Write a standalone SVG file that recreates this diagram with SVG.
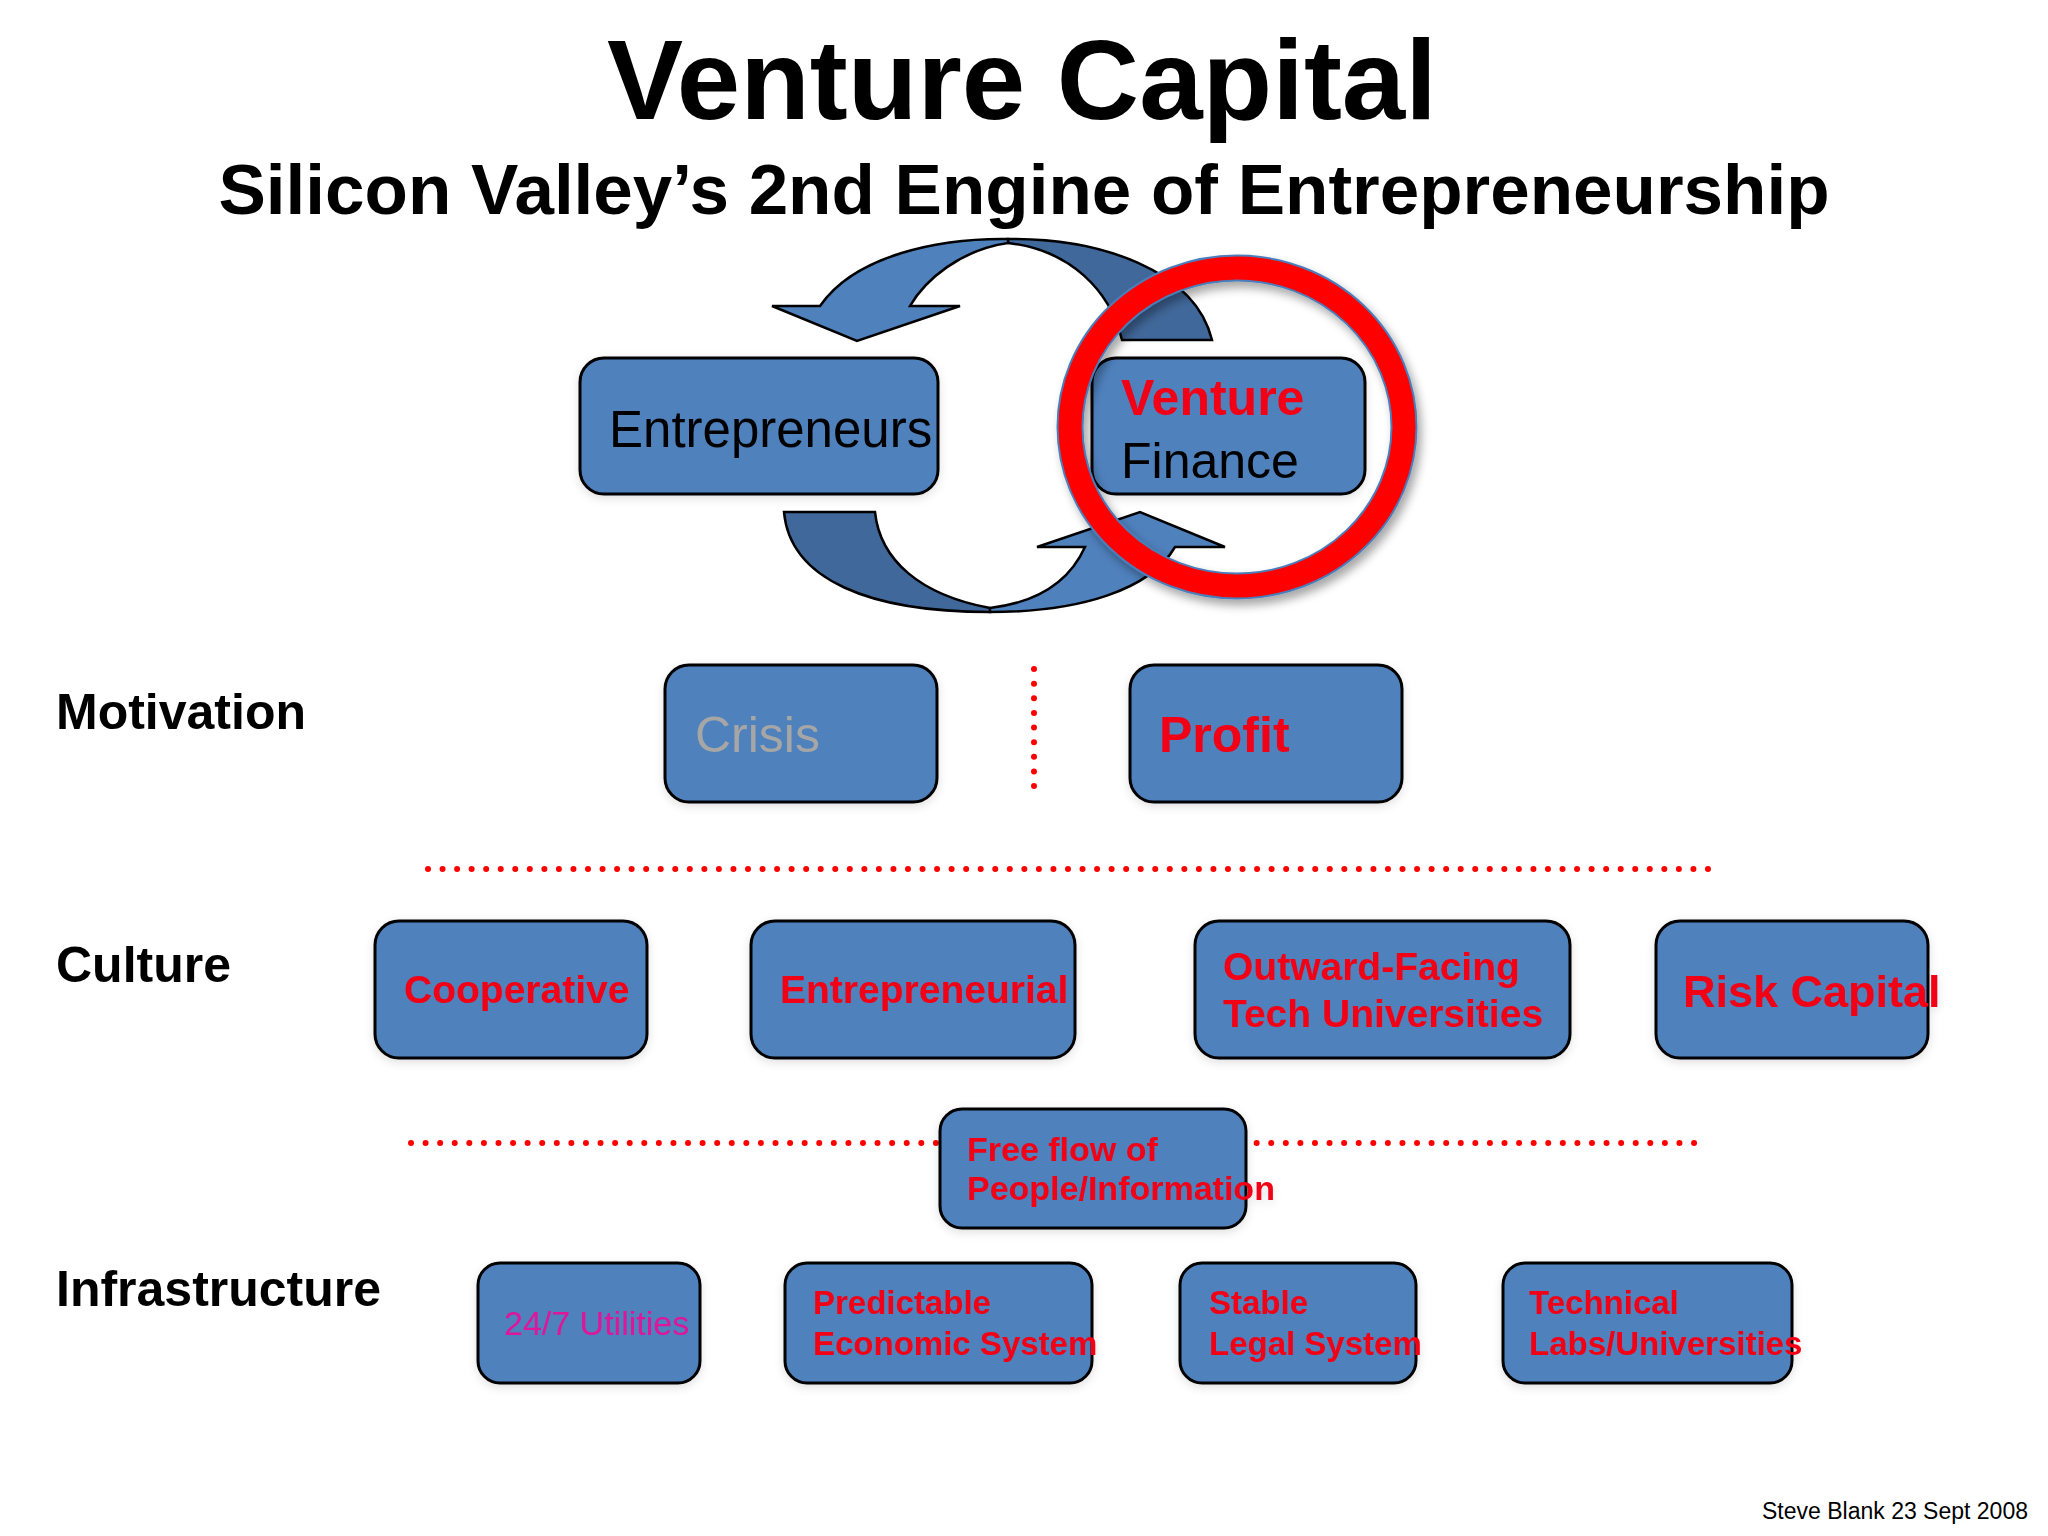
<svg xmlns="http://www.w3.org/2000/svg" width="2048" height="1536" viewBox="0 0 2048 1536">
<defs>
<style>
.box{fill:#4F81BD;stroke:#000;stroke-width:3}
.t{font-family:"Liberation Sans",Arial,sans-serif}
.b{font-weight:bold}
.red{fill:#F20016}
.lbl{font-family:"Liberation Sans",Arial,sans-serif;font-weight:bold;font-size:50px;fill:#000}
.dots{fill:none;stroke:#FF0000;stroke-width:6;stroke-linecap:round}
.arrL{fill:#4F81BD;stroke:#000;stroke-width:2.5;stroke-linejoin:miter}
.arrD{fill:#41689A;stroke:#000;stroke-width:2.5;stroke-linejoin:miter}
</style>
<filter id="sh" x="-20%" y="-20%" width="140%" height="140%">
<feDropShadow dx="4" dy="6" stdDeviation="5" flood-color="#000" flood-opacity="0.35"/>
</filter>
<filter id="bs" x="-10%" y="-10%" width="120%" height="130%">
<feDropShadow dx="0" dy="3" stdDeviation="5" flood-color="#000" flood-opacity="0.12"/>
</filter>
</defs>
<rect width="2048" height="1536" fill="#FFFFFF"/>

<g id="title">
<text class="t b" x="1022" y="119" font-size="114" text-anchor="middle" fill="#000">Venture Capital</text>
<text class="t b" x="1024" y="214" font-size="71" text-anchor="middle" fill="#000">Silicon Valley’s 2nd Engine of Entrepreneurship</text>
</g>

<g id="connectors">
<path class="arrD" d="M1008,239 C1100,238 1195,270 1212,340 L1122,340 C1110,290 1070,250 1008,243 Z"/>
<path class="arrL" d="M1008,239 C940,238 855,255 820,306 L772,306 L857,341 L960,306 L910,306 C925,280 960,250 1008,243 Z"/>
<path class="arrD" d="M784,512 L875,512 C880,560 920,595 990,608 L990,612 C870,612 790,580 784,512 Z"/>
<path class="arrL" d="M990,612 C1080,612 1150,590 1175,547 L1225,547 L1140,512 L1037,547 L1085,547 C1070,580 1040,602 990,608 Z"/>
<path class="dots" stroke-dasharray="0 14.625" d="M1034,669 L1034,786.5"/>
<path class="dots" stroke-dasharray="0 14.545" d="M428,869 L1708.5,869"/>
<path class="dots" stroke-dasharray="0 14.58" d="M411,1143 L1694.5,1143"/>
</g>

<g id="row-labels">
<text class="lbl" x="56" y="729">Motivation</text>
<text class="lbl" x="56" y="982">Culture</text>
<text class="lbl" x="56" y="1306">Infrastructure</text>
</g>

<g id="entrepreneurs" filter="url(#bs)">
<rect class="box" x="580" y="358" width="358" height="136" rx="24"/>
<text class="t" x="609" y="447" font-size="51" fill="#000">Entrepreneurs</text>
</g>

<g id="venture-finance" filter="url(#bs)">
<rect class="box" x="1092" y="358" width="273" height="136" rx="24"/>
<text class="t b red" x="1121" y="415" font-size="50">Venture</text>
<text class="t" x="1121" y="478" font-size="50" fill="#000">Finance</text>
</g>

<g id="crisis" filter="url(#bs)">
<rect class="box" x="665" y="665" width="272" height="137" rx="24"/>
<text class="t" x="695" y="752" font-size="50" fill="#A6A6A6">Crisis</text>
</g>

<g id="profit" filter="url(#bs)">
<rect class="box" x="1130" y="665" width="272" height="137" rx="24"/>
<text class="t b red" x="1159" y="752" font-size="50">Profit</text>
</g>

<g id="cooperative" filter="url(#bs)">
<rect class="box" x="375" y="921" width="272" height="137" rx="24"/>
<text class="t b red" x="404" y="1003" font-size="39">Cooperative</text>
</g>

<g id="entrepreneurial" filter="url(#bs)">
<rect class="box" x="751" y="921" width="324" height="137" rx="24"/>
<text class="t b red" x="780" y="1003" font-size="39">Entrepreneurial</text>
</g>

<g id="outward-facing" filter="url(#bs)">
<rect class="box" x="1195" y="921" width="375" height="137" rx="24"/>
<text class="t b red" x="1223" y="980" font-size="39">Outward-Facing</text>
<text class="t b red" x="1223" y="1027" font-size="39">Tech Universities</text>
</g>

<g id="risk-capital" filter="url(#bs)">
<rect class="box" x="1656" y="921" width="272" height="137" rx="24"/>
<text class="t b red" x="1683" y="1007" font-size="45">Risk Capital</text>
</g>

<g id="free-flow" filter="url(#bs)">
<rect class="box" x="940" y="1109" width="306" height="119" rx="22"/>
<text class="t b red" x="967" y="1161" font-size="34">Free flow of</text>
<text class="t b red" x="967" y="1200" font-size="34">People/Information</text>
</g>

<g id="utilities" filter="url(#bs)">
<rect class="box" x="478" y="1263" width="222" height="120" rx="22"/>
<text class="t" x="504" y="1335" font-size="34" fill="#E0139A">24/7 Utilities</text>
</g>

<g id="economic" filter="url(#bs)">
<rect class="box" x="785" y="1263" width="307" height="120" rx="22"/>
<text class="t b red" x="813" y="1314" font-size="33">Predictable</text>
<text class="t b red" x="813" y="1355" font-size="33">Economic System</text>
</g>

<g id="legal" filter="url(#bs)">
<rect class="box" x="1180" y="1263" width="236" height="120" rx="22"/>
<text class="t b red" x="1209" y="1314" font-size="33">Stable</text>
<text class="t b red" x="1209" y="1355" font-size="33">Legal System</text>
</g>

<g id="technical" filter="url(#bs)">
<rect class="box" x="1503" y="1263" width="289" height="120" rx="22"/>
<text class="t b red" x="1529" y="1314" font-size="33">Technical</text>
<text class="t b red" x="1529" y="1355" font-size="33">Labs/Universities</text>
</g>

<g id="highlight-ring" filter="url(#sh)">
<ellipse cx="1237" cy="427" rx="167" ry="159" fill="none" stroke="#4A7EBB" stroke-width="27"/>
<ellipse cx="1237" cy="427" rx="167" ry="159" fill="none" stroke="#FF0000" stroke-width="23"/>
</g>

<text class="t" x="2028" y="1519" font-size="23" text-anchor="end" fill="#000">Steve Blank 23 Sept 2008</text>
</svg>
